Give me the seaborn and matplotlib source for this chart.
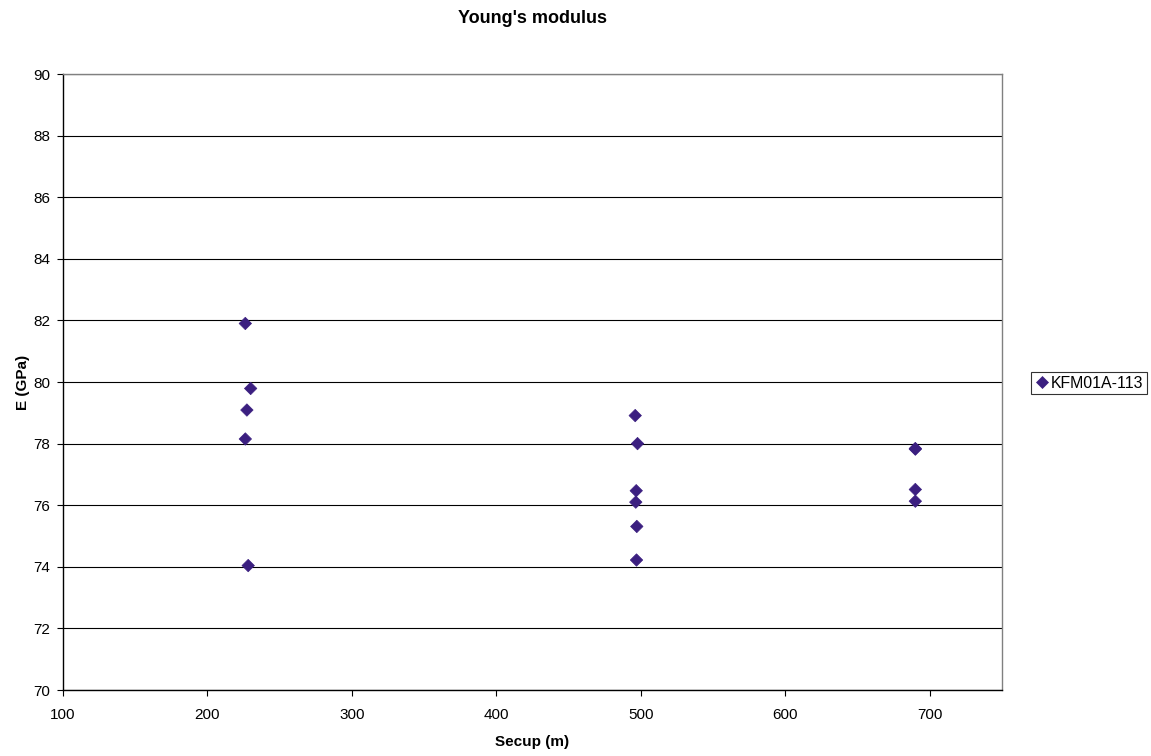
import matplotlib
matplotlib.use("Agg")
import matplotlib.pyplot as plt
import seaborn as sns
import pandas as pd

secup = [226.2, 229.9, 227.3, 226.2, 228.2,
         496.1, 497.7, 496.8, 496.5, 497.2, 497.0,
         690.0, 690.0, 690.0, 690.0]
modulus = [81.9, 79.79, 79.09, 78.15, 74.04,
           78.91, 78.0, 76.47, 76.10, 75.31, 74.22,
           77.84, 77.82, 76.51, 76.13]
series = ["KFM01A-113"] * len(secup)

df = pd.DataFrame({"Secup (m)": secup, "E (GPa)": modulus, "series": series})

sns.set_theme(style="white")
plt.rcParams['font.family'] = ['Liberation Sans', 'DejaVu Sans']
plt.rcParams['text.color'] = 'black'
plt.rcParams['axes.labelcolor'] = 'black'
plt.rcParams['xtick.color'] = 'black'
plt.rcParams['ytick.color'] = 'black'

fig = plt.figure(figsize=(11.51, 7.56), dpi=100)
ax = fig.add_axes([63/1151, 1-690/756, (1002-63)/1151, (690-74)/756])

sns.scatterplot(data=df, x="Secup (m)", y="E (GPa)", hue="series",
                palette=["#3b1f80"], marker="D", s=40, edgecolor="#3b1f80",
                linewidth=0.5, ax=ax, zorder=3)

ax.set_xlim(100, 750)
ax.set_ylim(70, 90)
ax.set_xticks(range(100, 701, 100))
ax.set_yticks(range(70, 91, 2))
ax.yaxis.grid(True, color="black", linewidth=0.8)
ax.xaxis.grid(False)
for s in ["left", "bottom"]:
    ax.spines[s].set_color("black")
    ax.spines[s].set_linewidth(1.0)
for s in ["top", "right"]:
    ax.spines[s].set_color("#808080")
    ax.spines[s].set_linewidth(1.0)
ax.tick_params(axis="both", which="major", direction="out", length=4, width=0.8,
               color="black", labelsize=11, labelcolor="black",
               bottom=True, left=True)
ax.tick_params(axis="y", pad=5)
ax.tick_params(axis="x", pad=9)

ax.set_xlabel("Secup (m)", fontsize=11, fontweight="bold", color="black")
ax.set_ylabel("E (GPa)", fontsize=11, fontweight="bold", color="black")
ax.xaxis.set_label_coords(0.5, -(735-690)/616, transform=ax.transAxes)
ax.xaxis.label.set_va("top")
ax.yaxis.set_label_coords((30-63)/939, 0.5, transform=ax.transAxes)

fig.text((63+1002)/2/1151, 1-23/756, "Young's modulus", fontsize=13,
         fontweight="bold", ha="center", va="baseline", color="black")

ax.get_legend().remove()
handles, labels = ax.get_legend_handles_labels()
leg = fig.legend(handles, labels, loc="center left",
                 bbox_to_anchor=(1031/1151, 1-383/756), frameon=True,
                 fontsize=11.4, handletextpad=0.1, handlelength=0.9,
                 borderpad=0.25, borderaxespad=0, fancybox=False,
                 edgecolor="black", markerscale=1.0, labelcolor="black")
leg.get_frame().set_linewidth(0.8)

fig.savefig("out.png", dpi=100, facecolor="white")
